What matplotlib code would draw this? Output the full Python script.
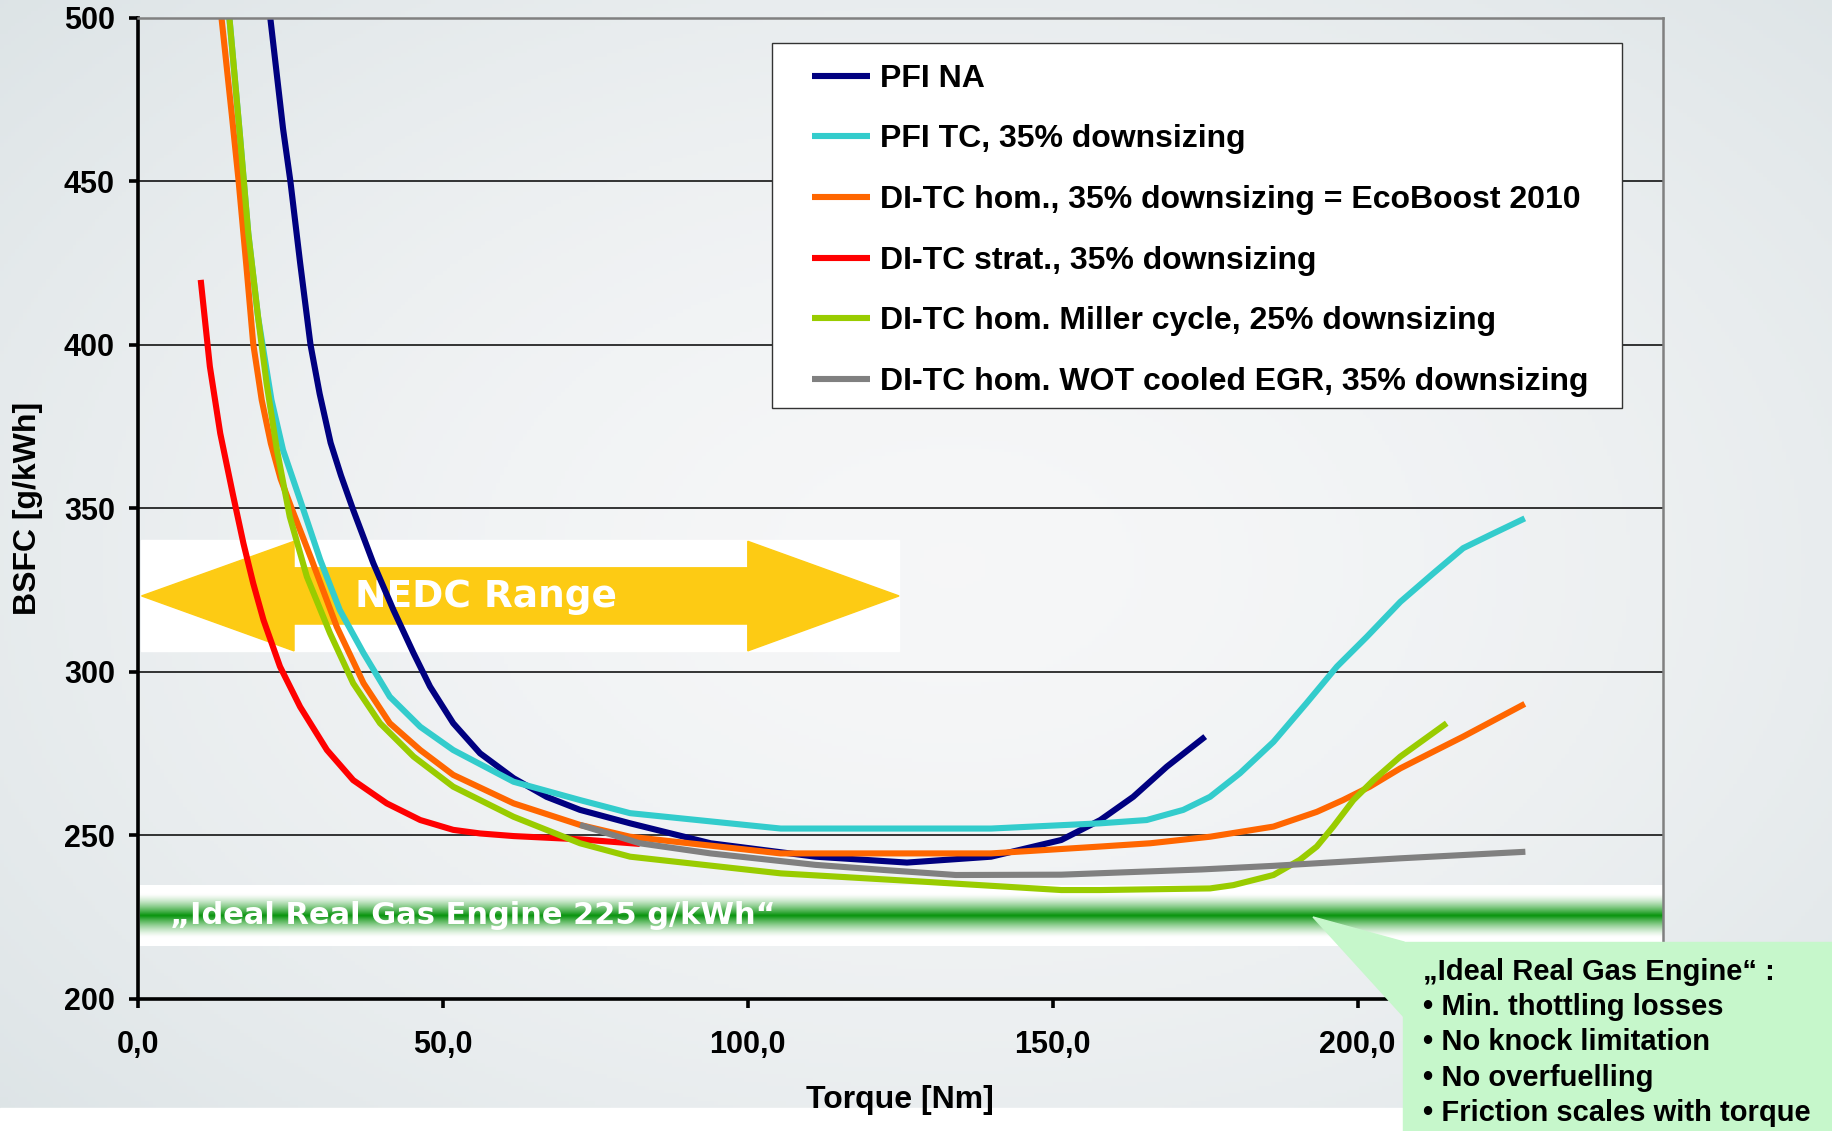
import numpy as np
import matplotlib.pyplot as plt
from matplotlib.patches import Polygon, Rectangle

plt.rcParams['font.family'] = ['Liberation Sans', 'DejaVu Sans']
plt.rcParams['font.weight'] = 'bold'

# BSFC [g/kWh] over torque [Nm] for each engine concept
pfi_na_x = [21.7, 23.8, 25.0, 26.6, 28.3, 29.8, 31.6, 33.3, 35.3, 38.6, 41.9, 45.2, 47.9,
            51.7, 56.1, 61.6, 67.0, 72.5, 80.7, 93.9, 111.1, 126.1, 139.9, 151.4, 157.8,
            163.2, 168.7, 175.0]
pfi_na_y = [500, 466.0, 450.0, 425.0, 400.0, 385.0, 370.0, 360.0, 349.5, 333.2, 318.9,
            305.7, 295.5, 284.3, 275.1, 267.5, 261.8, 257.8, 253.7, 247.6, 243.5, 241.7,
            243.5, 248.6, 254.7, 261.8, 271.0, 280.2]

pfi_tc_x = [15.0, 16.7, 18.1, 19.7, 20.4, 21.9, 23.8, 26.6, 29.9, 33.1, 37.0, 41.3, 46.3,
            51.7, 61.6, 72.5, 80.7, 105.4, 139.9, 157.8, 165.4, 171.4, 175.8, 180.7, 186.2,
            191.6, 196.6, 201.5, 207.0, 212.4, 217.3, 221.7, 227.4]
pfi_tc_y = [500, 464.6, 434.0, 408.5, 400.4, 383.1, 367.8, 352.5, 334.2, 318.9, 305.7,
            292.4, 283.2, 276.1, 266.4, 260.8, 256.8, 252.1, 252.1, 253.7, 254.7, 257.8,
            261.8, 269.0, 278.6, 290.4, 301.6, 310.7, 321.4, 330.1, 337.8, 341.8, 346.9]

di_hom_x = [13.7, 15.4, 16.5, 17.8, 18.9, 20.3, 21.8, 23.4, 25.2, 28.5, 32.6, 37.0, 41.3,
            46.3, 51.7, 61.6, 72.5, 80.7, 105.4, 139.9, 157.8, 166.0, 175.8, 186.2, 193.3,
            197.6, 202.0, 207.0, 212.4, 217.3, 227.4]
di_hom_y = [500, 470.2, 450.3, 423.8, 400.4, 383.1, 369.8, 359.0, 350.0, 334.2, 313.8,
            296.5, 284.3, 276.1, 268.5, 259.8, 253.2, 249.6, 244.5, 244.5, 246.6, 247.6,
            249.6, 252.7, 257.2, 260.8, 264.9, 270.5, 275.6, 280.2, 290.2]

di_strat_x = [10.3, 11.8, 13.5, 15.6, 17.3, 18.9, 20.6, 23.3, 26.6, 31.0, 35.3, 40.8,
              46.3, 51.7, 56.1, 61.6, 72.5, 82.3]
di_strat_y = [419.8, 393.3, 372.9, 354.0, 339.3, 327.1, 315.8, 301.6, 289.3, 276.1,
              266.9, 259.8, 254.7, 251.7, 250.6, 249.8, 248.8, 247.4]

miller_x = [15.0, 16.7, 18.1, 19.7, 21.1, 22.8, 24.9, 27.7, 31.5, 35.3, 39.7, 45.2, 51.7,
            61.6, 72.5, 80.7, 105.4, 128.4, 151.4, 157.8, 175.8, 179.6, 186.2, 190.5, 193.3,
            196.0, 199.3, 202.6, 207.0, 214.6]
miller_y = [500, 464.6, 434.0, 408.5, 388.2, 367.8, 347.4, 329.1, 311.8, 296.5, 284.3,
            274.1, 264.9, 255.7, 247.6, 243.5, 238.4, 235.9, 233.3, 233.3, 233.8, 234.8,
            237.9, 242.5, 246.6, 252.7, 260.8, 266.9, 274.1, 284.3]

egr_x = [72.5, 82.3, 93.9, 111.1, 122.6, 134.1, 151.4, 174.4, 186.2, 207.0, 227.5]
egr_y = [253.2, 247.6, 244.5, 241.0, 239.4, 237.9, 238.0, 239.6, 240.7, 243.0, 245.0]

series = [
    ("PFI NA", pfi_na_x, pfi_na_y, "#000080"),
    ("PFI TC, 35% downsizing", pfi_tc_x, pfi_tc_y, "#33cccc"),
    ("DI-TC hom., 35% downsizing = EcoBoost 2010", di_hom_x, di_hom_y, "#ff6600"),
    ("DI-TC strat., 35% downsizing", di_strat_x, di_strat_y, "#ff0000"),
    ("DI-TC hom. Miller cycle, 25% downsizing", miller_x, miller_y, "#99cc00"),
    ("DI-TC hom. WOT cooled EGR, 35% downsizing", egr_x, egr_y, "#808080"),
]

ideal_bsfc = 225
ideal_band = (216.3, 234.8)
nedc_range = (0.6, 124.8)
nedc_heads = (25.6, 100.0)

W, H = 1832, 1131
fig = plt.figure(figsize=(W / 100, H / 100), dpi=100)

# soft grey slide background, white strip at the very bottom
bg = fig.add_axes([0, 0, 1, 1], zorder=-5)
yy, xx = np.mgrid[0:1:300j, 0:1:480j]
r = np.sqrt(((xx - 0.52) / 0.75) ** 2 + ((yy - 0.5) / 0.8) ** 2)
shade = np.clip(r, 0, 1) ** 1.6
c_in = np.array([0.965, 0.968, 0.972])
c_out = np.array([0.855, 0.885, 0.895])
img = c_in[None, None, :] * (1 - shade[..., None]) + c_out[None, None, :] * shade[..., None]
bg.imshow(img, extent=[0, 1, 0, 1], aspect='auto', origin='upper')
bg.add_patch(Rectangle((0, 0), 1, 1 - 1108 / H, color='white'))
bg.set_xlim(0, 1)
bg.set_ylim(0, 1)
bg.axis('off')

ax = fig.add_axes([137.9 / W, 1 - 999 / H, 1524.7 / W, 981.5 / H])
ax.set_facecolor('none')

for name, x, y, col in series:
    ax.plot(x, y, color=col, lw=4.4, label=name, zorder=5,
            solid_capstyle='butt', solid_joinstyle='round')

# NEDC range double arrow on a white box
x0, x1 = nedc_range
h0, h1 = nedc_heads
ax.add_patch(Rectangle((x0 - 0.1, 306.4), x1 - x0 + 0.1, 34.0, color='white', zorder=2))
arrow = [(x0, 323.2), (h0, 339.9), (h0, 331.8), (h1, 331.8), (h1, 339.9), (x1, 323.2),
         (h1, 306.4), (h1, 314.6), (h0, 314.6), (h0, 306.4)]
ax.add_patch(Polygon(arrow, closed=True, color='#fdcb14', zorder=3))
ax.text(57.0, 323.0, "NEDC Range", color='white', fontsize=27, fontweight='bold',
        family='DejaVu Sans', ha='center', va='center', zorder=4)

# ideal engine band
t = np.linspace(0, 1, 200)[:, None]
f = np.clip(1 - np.abs(t - 0.5) / 0.36, 0, 1) ** 1.4
green = np.array([0.03, 0.58, 0.05])
band = np.ones((200, 1, 3)) * (1 - f[..., None]) + green * f[..., None]
ax.imshow(band, extent=[0.3, 250, ideal_band[0], ideal_band[1]], aspect='auto',
          origin='upper', zorder=2, interpolation='bilinear')
ax.text(5.2, ideal_bsfc + 0.5, "\u201eIdeal Real Gas Engine 225 g/kWh\u201c", color='white',
        fontsize=22, fontweight='bold', family='DejaVu Sans', ha='left', va='center', zorder=4)

ax.set_xlim(0, 250)
ax.set_ylim(200, 500)
ax.set_xticks(np.arange(0, 251, 50))
ax.set_xticklabels([f"{v:.1f}".replace('.', ',') for v in np.arange(0, 251, 50)])
ax.set_yticks(np.arange(200, 501, 50))
ax.yaxis.grid(True, color='black', lw=1.1)
ax.set_axisbelow(True)

for s in ('left', 'bottom'):
    ax.spines[s].set_linewidth(2.6)
    ax.spines[s].set_color('black')
for s in ('top', 'right'):
    ax.spines[s].set_linewidth(1.8)
    ax.spines[s].set_color('#808080')
ax.spines['top'].set_zorder(6)

ax.tick_params(axis='both', direction='out', length=6.5, width=2.6, labelsize=22)
ax.tick_params(axis='y', pad=10)
ax.tick_params(axis='x', pad=16)
for lab in ax.get_xticklabels() + ax.get_yticklabels():
    lab.set_fontweight('bold')

ax.set_xlabel("Torque [Nm]", fontsize=23, fontweight='bold')
ax.set_ylabel("BSFC [g/kWh]", fontsize=23, fontweight='bold')
ax.xaxis.set_label_coords(0.5, -0.088)
ax.yaxis.set_label_coords(-0.062, 0.5)

# legend frame drawn separately so the inner padding can be uneven
ax.add_patch(Rectangle((0.4161, 0.6023), 0.5571, 0.3715, transform=ax.transAxes,
                       facecolor='white', edgecolor='#333333', lw=1.0, zorder=9))
leg = ax.legend(loc='upper left', bbox_to_anchor=(0.4421, 0.9529), fontsize=23,
                frameon=False, handlelength=1.82, handletextpad=0.32, labelspacing=0.96,
                borderpad=0, borderaxespad=0)
leg.set_zorder(10)
for txt in leg.get_texts():
    txt.set_fontweight('bold')
for ln in leg.get_lines():
    ln.set_linewidth(4.4)

# callout with the ideal engine assumptions
fig.patches.append(Polygon([(1313 / W, 1 - 917 / H), (1404 / W, 1 - 942 / H), (1404 / W, 1 - 1017 / H)],
                           closed=True, color='#c6f7cb', transform=fig.transFigure, figure=fig, zorder=20))
fig.patches.append(Rectangle((1403 / W, 0), 1 - 1403 / W, 1 - 942 / H, color='#c6f7cb',
                             transform=fig.transFigure, figure=fig, zorder=20))
callout = ["\u201eIdeal Real Gas Engine\u201c :", "\u2022 Min. thottling losses",
           "\u2022 No knock limitation", "\u2022 No overfuelling", "\u2022 Friction scales with torque"]
for i, line in enumerate(callout):
    fig.text(1423 / W, 1 - (972 + 35.2 * i) / H, line, fontsize=21, fontweight='bold',
             ha='left', va='center', zorder=21)

fig.savefig("out.png", dpi=100)
